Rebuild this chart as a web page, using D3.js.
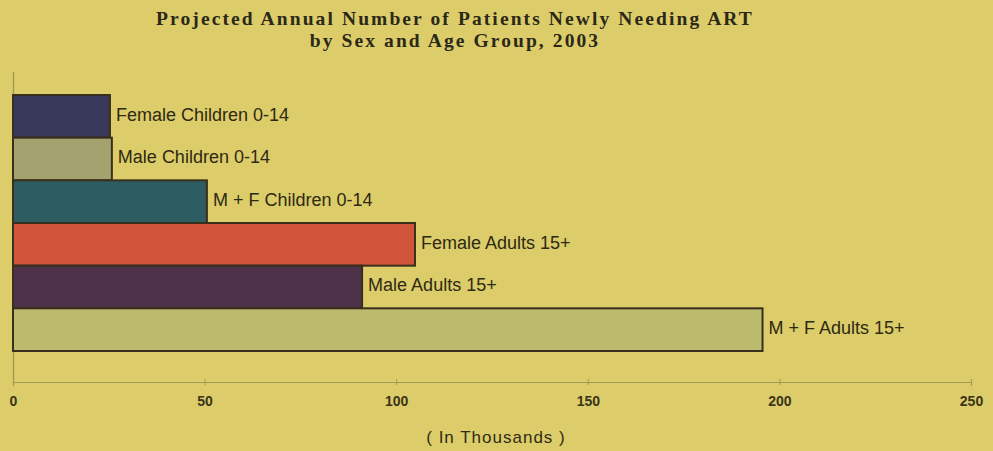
<!DOCTYPE html>
<html><head><meta charset="utf-8">
<script src="https://cdn.jsdelivr.net/npm/d3@7"></script>
<style>
html,body{margin:0;padding:0;background:#dccd6a;}
svg{display:block;}
</style></head>
<body>
<svg id="chart" width="993" height="451"></svg>
<script>
const categories = ["Female Children 0-14","Male Children 0-14","M + F Children 0-14","Female Adults 15+","Male Adults 15+","M + F Adults 15+"];
const values = [25.3, 25.8, 50.6, 104.9, 91.1, 195.6];
const colors = ["#38395a","#a4a26f","#2d5d60","#d0553a","#4d3249","#bcba6d"];
const tickValues = [0,50,100,150,200,250];
const titleLines = ["Projected Annual Number of Patients Newly Needing ART","by Sex and Age Group, 2003"];
const axisTitle = "( In Thousands )";

const svg = d3.select("#chart");
svg.append("rect").attr("width",993).attr("height",451).attr("fill","#dccd6a");

const x = d3.scaleLinear().domain([0,250]).range([13,971]);
const y = d3.scaleBand().domain(categories).range([95,351]).padding(0);

// title
svg.append("g").selectAll("text").data(titleLines).join("text")
  .attr("x",455).attr("y",(d,i)=>25+i*21.5)
  .attr("text-anchor","middle")
  .attr("font-family","'Liberation Serif','Times New Roman',serif")
  .attr("font-weight","bold")
  .attr("font-size",19.5).attr("letter-spacing","2.1px")
  .attr("fill","#2b2818").text(d=>d);

// y axis line
svg.append("line").attr("x1",13.5).attr("x2",13.5).attr("y1",72).attr("y2",383)
  .attr("stroke","#9c9450").attr("stroke-width",1.2);

// x axis
const xAxis = d3.axisBottom(x).tickValues(tickValues).tickSize(4).tickPadding(10);
const gx = svg.append("g").attr("transform","translate(0,382)").call(xAxis);
gx.select(".domain").attr("stroke","#a39a55").attr("stroke-width",1.2);
gx.selectAll(".tick line").attr("stroke","#a39a55").attr("y1",-3).attr("y2",3);
gx.selectAll(".tick text")
  .attr("font-family","'Liberation Sans Narrow','Liberation Sans',Arial,sans-serif")
  .attr("font-weight","bold").attr("font-size",14).attr("fill","#3a3418");

// bars
svg.append("g").selectAll("rect").data(categories).join("rect")
  .attr("x",x(0)).attr("y",d=>y(d))
  .attr("width",(d,i)=>x(values[i])-x(0))
  .attr("height",y.bandwidth())
  .attr("fill",(d,i)=>colors[i])
  .attr("stroke","#3a2f1c").attr("stroke-width",2);

// labels
svg.append("g").selectAll("text").data(categories).join("text")
  .attr("x",(d,i)=>x(values[i])+6)
  .attr("y",d=>y(d)+y.bandwidth()/2)
  .attr("dy","0.24em")
  .attr("font-family","'Liberation Sans',Arial,sans-serif")
  .attr("font-size",18).attr("fill","#2e2912")
  .text(d=>d);

svg.append("text").attr("x",496).attr("y",443).attr("text-anchor","middle")
  .attr("font-family","'Liberation Sans',Arial,sans-serif")
  .attr("font-size",17).attr("letter-spacing","1px").attr("fill","#302b15").text(axisTitle);
</script>
</body></html>
